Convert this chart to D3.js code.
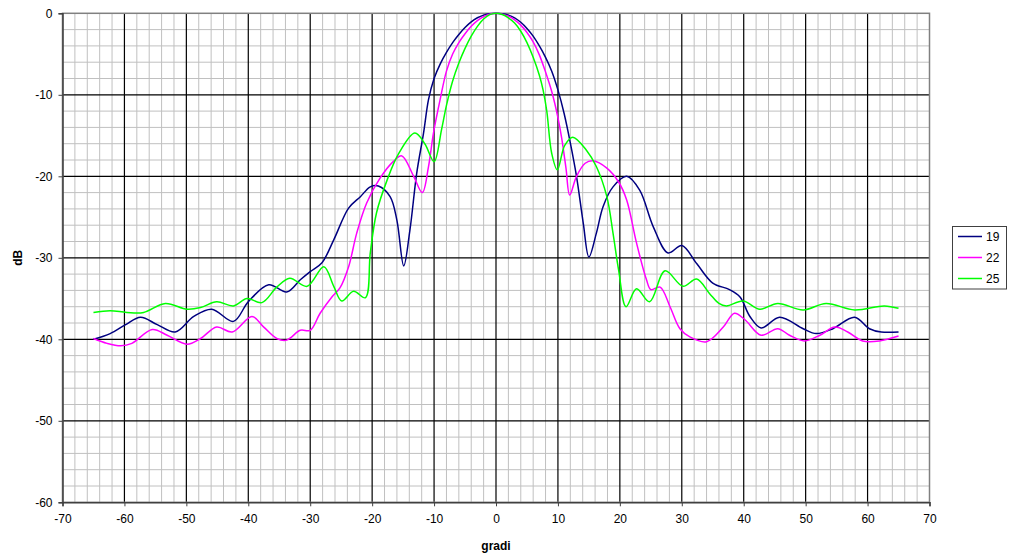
<!DOCTYPE html>
<html>
<head>
<meta charset="utf-8">
<script src="https://cdn.jsdelivr.net/npm/d3@7"></script>
<style>
  html, body { margin: 0; padding: 0; background: #fff; }
  svg { display: block; font-family: Arial, "Liberation Sans", sans-serif; }
</style>
</head>
<body>
<svg id="chart" width="1009" height="557"></svg>
<script>
// ---- data ----
const seriesNames = ["19", "22", "25"];
const seriesColors = ["#000080", "#ff00ff", "#00ff00"];

const x19 = [-65, -62.3, -59.8, -57.4, -54.7, -51.8, -48.8, -45.9, -42.4, -40, -36.7, -33.8, -31.6, -30, -28.1, -26.2, -23.8, -21.9, -20.3, -19, -17.1, -16, -14.9, -13.9, -12.8, -11.7, -10.9, -10, -9, -8, -7, -6, -5, -4, -3, -2, -1, 0, 1, 2, 3, 4, 5, 6, 7, 8, 9, 10, 11, 12, 13, 14.1, 15, 16.2, 17.3, 18.9, 21.1, 23.2, 25.4, 27.8, 30, 32.4, 35, 37.7, 39.4, 41, 42.8, 45.8, 49.6, 51.7, 54.4, 57.9, 60.3, 62.2, 65];
const y19 = [-40, -39.3, -38.2, -37.3, -38.2, -39.1, -37.2, -36.3, -37.8, -35.4, -33.3, -34.2, -32.7, -31.7, -30.6, -27.8, -23.9, -22.5, -21.3, -21.2, -22.5, -25.4, -31.0, -26.6, -19.6, -14.7, -10.6, -8.0, -6.2, -4.8, -3.6, -2.6, -1.75, -1.05, -0.55, -0.22, -0.05, 0, -0.05, -0.22, -0.55, -1.1, -1.85, -2.8, -4.0, -5.4, -7.1, -9.4, -12.3, -15.9, -20.0, -25.8, -29.9, -27.0, -23.7, -21.3, -20.0, -21.7, -26.2, -29.4, -28.5, -30.7, -33.1, -33.9, -34.8, -37.2, -38.6, -37.3, -38.7, -39.3, -38.7, -37.3, -38.7, -39.1, -39.1];

const x22 = [-65, -62.8, -60.6, -58.8, -55.5, -53.1, -49.9, -47.7, -45.1, -42.6, -39.4, -37.5, -35.4, -33.8, -31.6, -30, -28.4, -26.5, -25.2, -23.8, -22.5, -20.9, -18.7, -16.6, -15.2, -13.3, -11.9, -10.9, -10.1, -9, -8, -7, -6, -5, -4, -3, -2, -1, 0, 1, 2, 3, 4, 5, 6, 7, 8, 9, 10, 10.6, 11.3, 11.9, 13, 14.4, 15.7, 17.9, 19.8, 21.1, 22.7, 24.3, 25, 26.5, 28.1, 29.7, 31.3, 34, 36.7, 38.5, 40.2, 42.8, 45.5, 47.4, 49.8, 52.3, 54.7, 56.8, 59.2, 61.9, 65];
const y22 = [-39.9, -40.5, -40.8, -40.5, -38.8, -39.5, -40.6, -39.9, -38.5, -39.1, -37.2, -38.5, -39.9, -40.1, -38.9, -38.9, -36.8, -34.8, -33.7, -31.1, -27.0, -23.3, -20.2, -18.2, -17.5, -20.0, -22.0, -18.8, -14.7, -10.5, -7.1, -5.0, -3.6, -2.5, -1.6, -0.9, -0.4, -0.1, 0, -0.1, -0.35, -0.8, -1.45, -2.35, -3.5, -5.1, -7.2, -9.6, -12.8, -15.3, -19.0, -22.3, -20.0, -18.4, -18.1, -19.0, -20.7, -22.9, -28.2, -32.7, -33.9, -33.6, -36.0, -38.7, -39.7, -40.3, -38.5, -36.8, -37.6, -39.5, -38.7, -39.5, -40.2, -39.5, -38.5, -39.1, -40.2, -40.2, -39.6];

const x25 = [-65, -62.3, -59.6, -56.9, -53.4, -49.9, -47.7, -45.1, -42.4, -40.2, -37.8, -35.4, -33.3, -30.5, -27.8, -26.2, -24.9, -23, -21.1, -20.3, -19.3, -17.6, -15.7, -13.1, -11.5, -10, -8.8, -8, -7, -6, -5, -4, -3, -2, -1, 0, 1, 2, 3, 4, 5, 6, 7, 7.6, 8.2, 9.0, 9.9, 11.1, 12.4, 14.6, 16.2, 17.9, 18.9, 19.8, 21, 22.7, 24.8, 27.3, 30.2, 32.4, 34.5, 36, 37.2, 39.9, 42.6, 45.5, 49.6, 53.3, 57.9, 62.7, 65];
const y25 = [-36.7, -36.5, -36.7, -36.7, -35.6, -36.3, -36.1, -35.4, -35.9, -35.0, -35.5, -33.6, -32.5, -33.5, -31.1, -33.5, -35.3, -34.1, -34.9, -29.4, -24.5, -20.5, -17.2, -14.7, -16.0, -18.2, -14.3, -11.3, -8.3, -6.1, -4.3, -2.8, -1.6, -0.7, -0.17, 0, -0.15, -0.55, -1.2, -2.2, -3.6, -5.4, -7.6, -9.4, -12.0, -17.2, -19.2, -16.2, -15.2, -16.8, -18.8, -22.5, -27.0, -31.5, -36.0, -33.8, -35.4, -31.6, -33.5, -32.6, -34.4, -35.6, -35.9, -35.3, -36.3, -35.6, -36.4, -35.6, -36.4, -35.9, -36.2];

const xTicks = [-70, -60, -50, -40, -30, -20, -10, 0, 10, 20, 30, 40, 50, 60, 70];
const yTicks = [0, -10, -20, -30, -40, -50, -60];
const xTitle = "gradi";
const yTitle = "dB";

// ---- layout ----
const svg = d3.select("#chart");
const L = 62.5, R = 929.5, T = 13.3, B = 502.3;
const x = d3.scaleLinear().domain([-70, 70]).range([L, R]);
const y = d3.scaleLinear().domain([-60, 0]).range([B, T]);

svg.append("rect").attr("x", L).attr("y", T).attr("width", R - L).attr("height", B - T).attr("fill", "#fff");

// minor grid
const g = svg.append("g");
d3.range(-70, 70.01, 2).filter(v => v % 10 !== 0).forEach(v => {
  g.append("line").attr("x1", x(v)).attr("x2", x(v)).attr("y1", T).attr("y2", B)
    .attr("stroke", "#c0c0c0").attr("stroke-width", 1);
});
d3.range(-60, 0.01, 2).filter(v => v % 10 !== 0).forEach(v => {
  g.append("line").attr("x1", L).attr("x2", R).attr("y1", y(v)).attr("y2", y(v))
    .attr("stroke", "#c0c0c0").attr("stroke-width", 1);
});
// major grid
xTicks.filter(v => v > -70 && v < 70).forEach(v => {
  g.append("line").attr("x1", x(v)).attr("x2", x(v)).attr("y1", T).attr("y2", B)
    .attr("stroke", "#000").attr("stroke-width", 1.2);
});
yTicks.filter(v => v > -60 && v < 0).forEach(v => {
  g.append("line").attr("x1", L).attr("x2", R).attr("y1", y(v)).attr("y2", y(v))
    .attr("stroke", "#000").attr("stroke-width", 1.2);
});
// plot border
svg.append("rect").attr("x", L).attr("y", T).attr("width", R - L).attr("height", B - T)
  .attr("fill", "none").attr("stroke", "#808080").attr("stroke-width", 1.5);

// axes
const xAxis = d3.axisBottom(x).tickValues(xTicks).tickSize(4).tickPadding(8).tickFormat(d3.format("d"));
const yAxis = d3.axisLeft(y).tickValues(yTicks).tickSize(4).tickPadding(6).tickFormat(d3.format("d"));
const gx = svg.append("g").attr("transform", `translate(0,${B})`).call(xAxis);
const gy = svg.append("g").attr("transform", `translate(${L},0)`).call(yAxis);
[gx, gy].forEach(a => {
  a.select(".domain").attr("stroke", "#404040").attr("stroke-width", 1.5);
  a.selectAll(".tick line").attr("stroke", "#404040");
  a.selectAll("text").attr("font-size", 12).attr("fill", "#000")
    .attr("font-family", "Arial, 'Liberation Sans', sans-serif");
});
gx.selectAll(".tick text").text(d => String(d));
gy.selectAll(".tick text").text(d => String(d));

// titles
svg.append("text").attr("x", (L + R) / 2).attr("y", 550).attr("text-anchor", "middle")
  .attr("font-size", 12).attr("font-weight", "bold").text(xTitle);
svg.append("text").attr("transform", `translate(22,${(T + B) / 2}) rotate(-90)`)
  .attr("text-anchor", "middle").attr("font-size", 12).attr("font-weight", "bold").text(yTitle);

// lines
svg.append("clipPath").attr("id", "clip").append("rect")
  .attr("x", L).attr("y", T - 2).attr("width", R - L).attr("height", B - T + 2);
const line = d3.line().x(d => x(d[0])).y(d => y(d[1])).curve(d3.curveCatmullRom.alpha(0.5));
const series = [d3.zip(x19, y19), d3.zip(x22, y22), d3.zip(x25, y25)];
const lg = svg.append("g").attr("clip-path", "url(#clip)");
series.forEach((s, i) => {
  lg.append("path").attr("d", line(s)).attr("fill", "none")
    .attr("stroke", seriesColors[i]).attr("stroke-width", 1.5);
});

// legend
const leg = svg.append("g");
leg.append("rect").attr("x", 952.5).attr("y", 226.5).attr("width", 54).attr("height", 62.5)
  .attr("fill", "#fff").attr("stroke", "#404040").attr("stroke-width", 1);
seriesNames.forEach((n, i) => {
  const yy = 236.5 + i * 21;
  leg.append("line").attr("x1", 958).attr("x2", 982).attr("y1", yy).attr("y2", yy)
    .attr("stroke", seriesColors[i]).attr("stroke-width", 1.5);
  leg.append("text").attr("x", 986).attr("y", yy + 4.5).attr("font-size", 12).text(n);
});
</script>
</body>
</html>
